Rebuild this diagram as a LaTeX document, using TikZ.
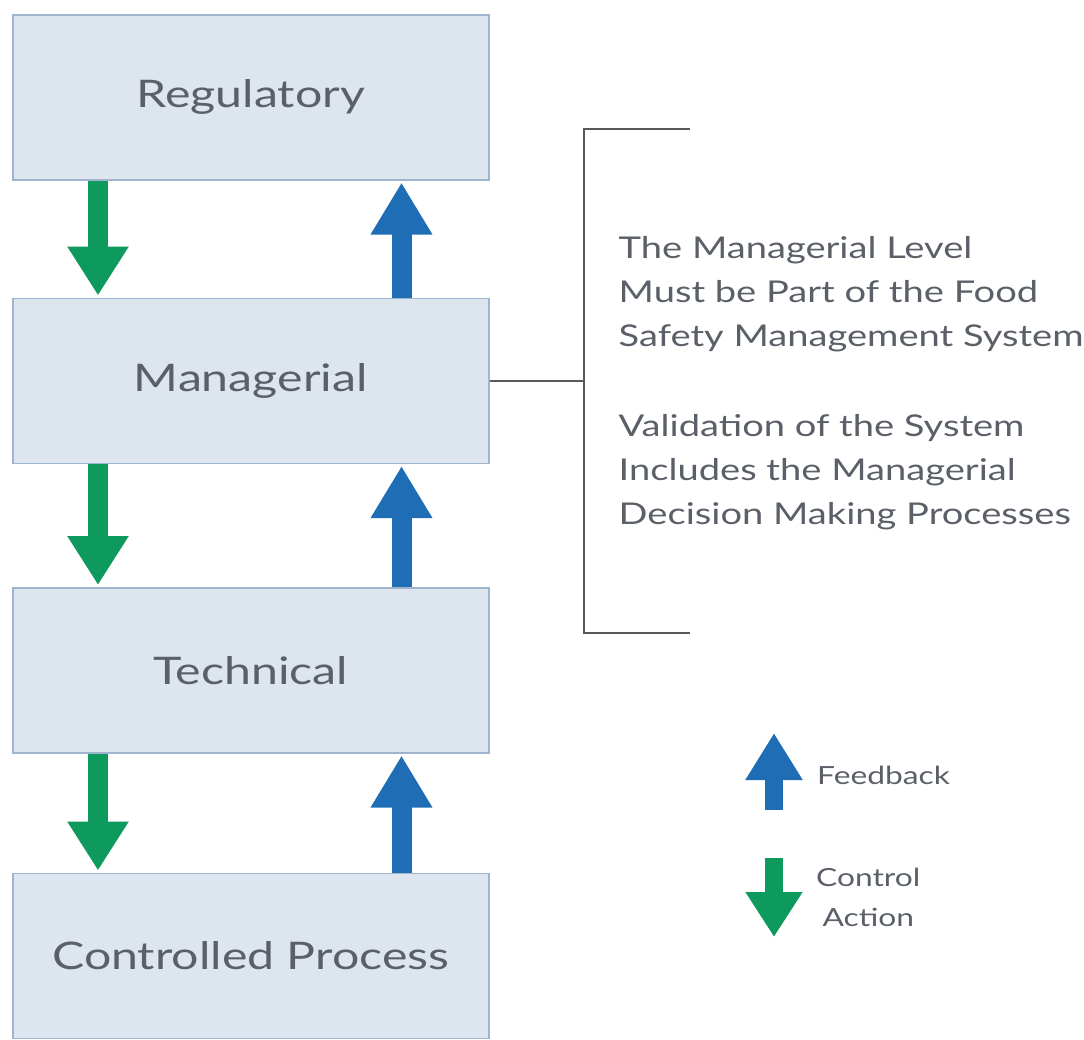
\documentclass[tikz,border=0pt]{standalone}
\usepackage{fontspec}
\setmainfont{Lato}[FakeStretch=1.27]
\usetikzlibrary{positioning, arrows.meta}
\definecolor{boxfill}{HTML}{DDE6EF}
\definecolor{boxline}{HTML}{9FB4CE}
\definecolor{ctrlgreen}{HTML}{0E9A5C}
\definecolor{fbblue}{HTML}{1F6EB5}
\definecolor{txtgray}{HTML}{5B6068}
\tikzset{
  level/.style={draw=boxline, line width=1.5pt, fill=boxfill, minimum width=476pt,
    minimum height=165pt, inner sep=0pt, text=txtgray, font=\fontsize{38}{44}\selectfont},
  ctrl/.style={draw=ctrlgreen, line width=20pt, -{Triangle[length=49pt, width=58pt]}},
  feedback/.style={draw=fbblue, line width=20pt, -{Triangle[length=52pt, width=58pt]}},
  bracket/.style={draw=black!65, line width=2pt},
  note/.style={text=txtgray, align=left, inner sep=0pt},
}

\begin{document}
\begin{tikzpicture}[x=1pt, y=-1pt]
        \useasboundingbox (0,0) rectangle (1084,1039);
        % levels
        \node[level, anchor=north west] (reg) at (12,14) {Regulatory};
        \node[level, below=117pt of reg] (man) {Managerial};
        \node[level, below=123pt of man] (tec) {Technical};
        \node[level, below=119pt of tec] (pro) {Controlled Process};

        % control actions and feedback
        \draw[ctrl] ([xshift=86pt]reg.south west) -- ([xshift=86pt, yshift=2pt]man.north west);
        \draw[ctrl] ([xshift=86pt]man.south west) -- ([xshift=86pt, yshift=2pt]tec.north west);
        \draw[ctrl] ([xshift=86pt]tec.south west) -- ([xshift=86pt, yshift=2pt]pro.north west);
        \draw[feedback] ([xshift=-88pt]man.north east) -- ([xshift=-88pt, yshift=-2pt]reg.south east);
        \draw[feedback] ([xshift=-88pt]tec.north east) -- ([xshift=-88pt, yshift=-2pt]man.south east);
        \draw[feedback] ([xshift=-88pt]pro.north east) -- ([xshift=-88pt, yshift=-2pt]tec.south east);

        % bracket with notes
        \coordinate[right=94pt of man.east] (brk);
        \draw[bracket] (man.east) -- (brk);
        \draw[bracket] ([xshift=106pt, yshift=252pt]brk) -- ([yshift=252pt]brk)
              -- ([yshift=-252pt]brk) -- ([xshift=106pt, yshift=-252pt]brk);
        \node[note, right=35pt of brk, yshift=-2pt, font=\fontsize{30}{44}\selectfont] (txt)
              {The Managerial Level\\Must be Part of the Food\\Safety Management System\\[46pt]
               Validation of the System\\Includes the Managerial\\Decision Making Processes};

        % legend
        \coordinate (fbtail) at (774,810);
        \coordinate (fbhead) at (774,733);
        \coordinate (cttail) at (774,858);
        \coordinate (cthead) at (774,937);
        \draw[feedback, -{Triangle[length=47pt, width=54pt]}, line width=18pt] (fbtail) -- (fbhead);
        \draw[ctrl, -{Triangle[length=45pt, width=54pt]}, line width=18pt] (cttail) -- (cthead);
        \node[note, anchor=west, font=\fontsize{25}{40}\selectfont] (fbl) at (817,775) {Feedback};
        \node[note, align=center, anchor=west, font=\fontsize{25}{40}\selectfont] (ctl) at (816,897) {Control\\Action};
\end{tikzpicture}
\end{document}
